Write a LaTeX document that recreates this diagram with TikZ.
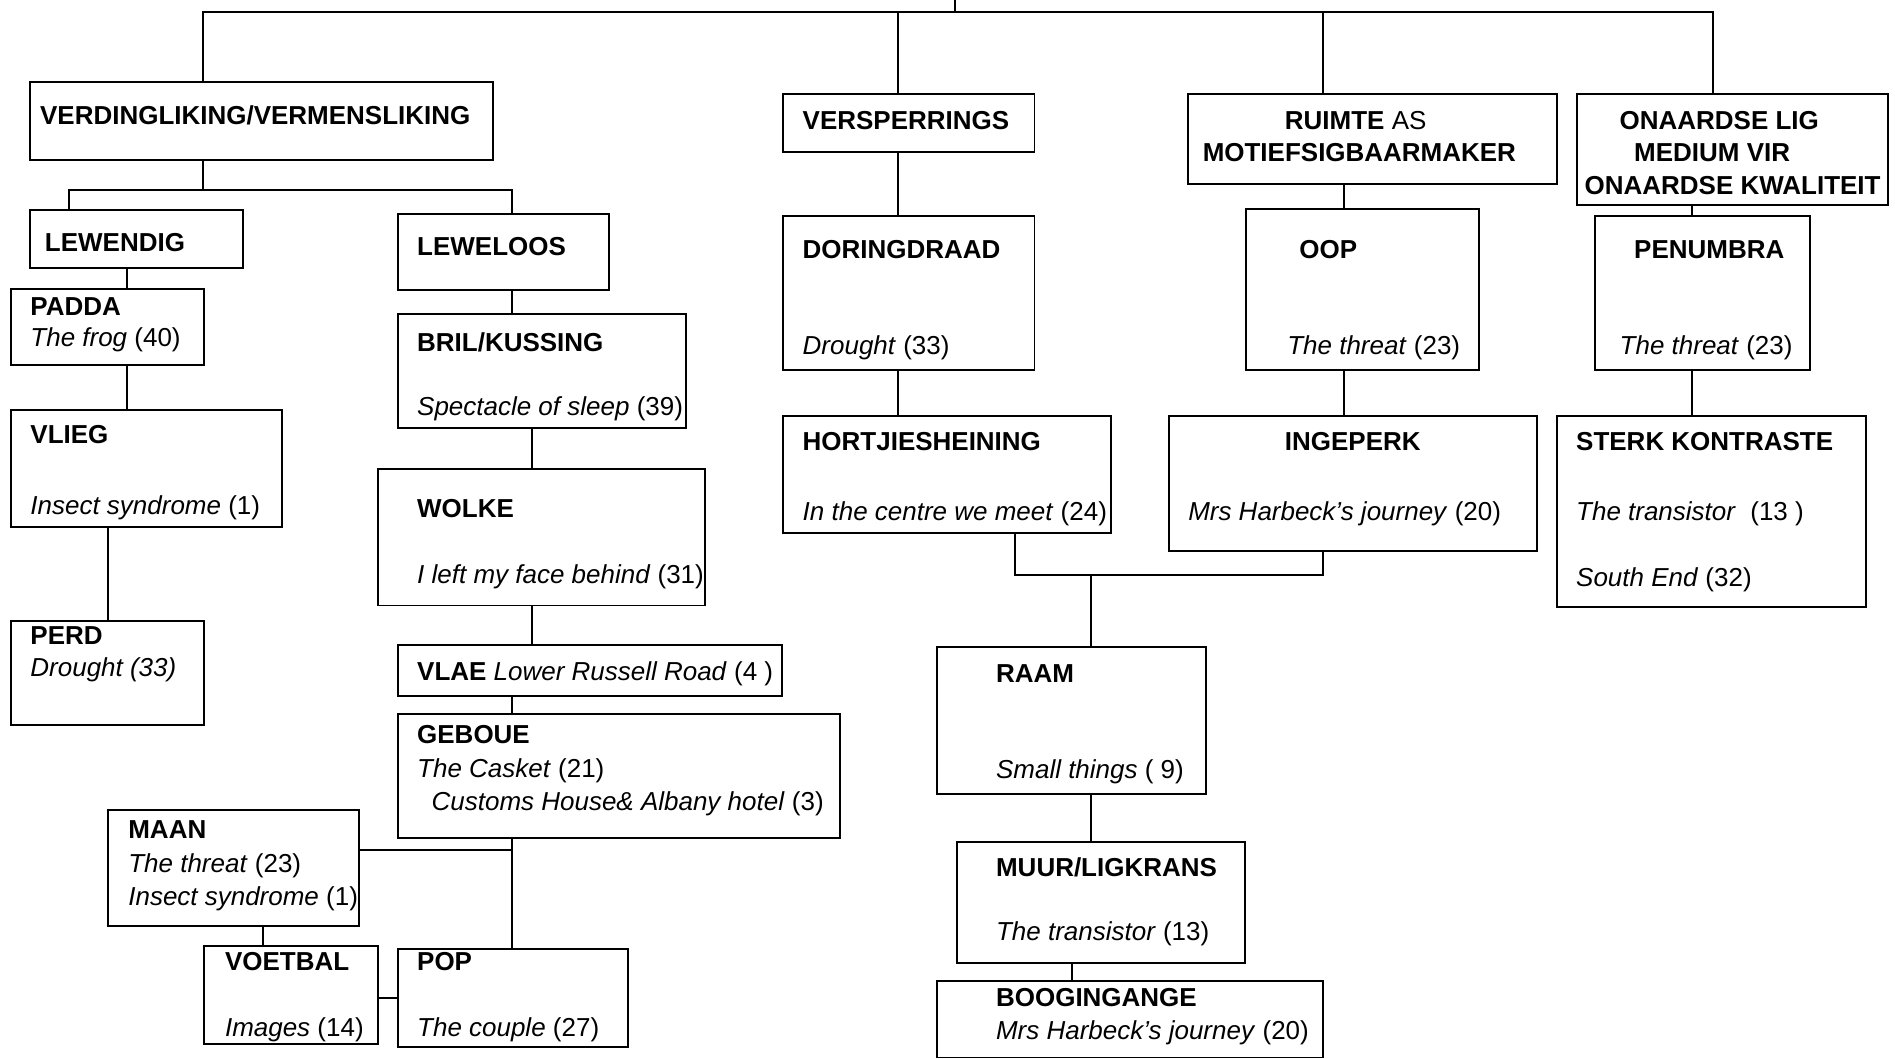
\documentclass[tikz,border=0pt]{standalone}
\usepackage{fontspec}
\setmainfont{Liberation Sans}
\usetikzlibrary{fit}
\begin{document}
\begin{tikzpicture}[x=1pt,y=-1pt,
  box/.style={draw, line width=1.6pt, inner sep=0pt},
  lbl/.style={anchor=base west, inner sep=0pt, font=\fontsize{21.5}{25}\selectfont},
  ln/.style={line width=1.6pt}]
\useasboundingbox[fill=white] (0,0) rectangle (1568,876);
% boxes
\node[box, fit={(25,68) (408,132)}] (verd) {};
\node[box, fit={(25,174) (201,222)}] (lewend) {};
\node[box, fit={(329,177) (504,240)}] (lewel) {};
\node[box, fit={(9,239) (169,302)}] (padda) {};
\node[box, fit={(9,339) (233,436)}] (vlieg) {};
\node[box, fit={(9,514) (169,600)}] (perd) {};
\node[box, fit={(329,260) (568,354)}] (bril) {};
\node[box, fit={(313,388) (583,501)}] (wolke) {};
\node[box, fit={(329,534) (647,576)}] (vlae) {};
\node[box, fit={(329,591) (695,693)}] (geboue) {};
\node[box, fit={(89,670) (297,766)}] (maan) {};
\node[box, fit={(169,783) (313,864)}] (voet) {};
\node[box, fit={(329,785) (520,866)}] (pop) {};
\node[box, fit={(648,78) (856,126)}] (versp) {};
\node[box, fit={(648,179) (856,306)}] (dor) {};
\node[box, fit={(648,344) (919,441)}] (hort) {};
\node[box, fit={(983,78) (1288,152)}] (ruimte) {};
\node[box, fit={(1031,173) (1224,306)}] (oop) {};
\node[box, fit={(967,344) (1272,456)}] (inge) {};
\node[box, fit={(1305,78) (1562,170)}] (onaard) {};
\node[box, fit={(1320,179) (1498,306)}] (pen) {};
\node[box, fit={(1288,344) (1544,502)}] (sterk) {};
\node[box, fit={(775,535) (998,657)}] (raam) {};
\node[box, fit={(792,697) (1030,797)}] (muur) {};
\node[box, fit={(775,812) (1095,875)}] (boog) {};
% texts
\node[lbl] (t1) at (33,103) {\textbf{VERDINGLIKING/VERMENSLIKING}};
\node[lbl] (t2) at (37,208) {\textbf{LEWENDIG}};
\node[lbl] (t3) at (345,211) {\textbf{LEWELOOS}};
\node[lbl] (t4) at (25,261) {\textbf{PADDA}};
\node[lbl] (t5) at (25,287) {\textit{The frog} (40)};
\node[lbl] (t6) at (25,367) {\textbf{VLIEG}};
\node[lbl] (t7) at (25,426) {\textit{Insect syndrome} (1)};
\node[lbl] (t8) at (25,533) {\textbf{PERD}};
\node[lbl] (t9) at (25,560) {\textit{Drought (33)}};
\node[lbl] (t10) at (345,291) {\textbf{BRIL/KUSSING}};
\node[lbl] (t11) at (345,344) {\textit{Spectacle of sleep} (39)};
\node[lbl] (t12) at (345,428) {\textbf{WOLKE}};
\node[lbl] (t13) at (345,483) {\textit{I left my face behind} (31)};
\node[lbl] (t14) at (345,563) {\textbf{VLAE} \textit{Lower Russell Road} (4 )};
\node[lbl] (t15) at (345,615) {\textbf{GEBOUE}};
\node[lbl] (t16) at (345,643) {\textit{The Casket} (21)};
\node[lbl] (t17) at (357,671) {\textit{Customs House\& Albany hotel} (3)};
\node[lbl] (t18) at (106,694) {\textbf{MAAN}};
\node[lbl] (t19) at (106,722) {\textit{The threat} (23)};
\node[lbl] (t20) at (106,749) {\textit{Insect syndrome} (1)};
\node[lbl] (t21) at (186,803) {\textbf{VOETBAL}};
\node[lbl] (t22) at (186,858) {\textit{Images} (14)};
\node[lbl] (t23) at (345,803) {\textbf{POP}};
\node[lbl] (t24) at (345,858) {\textit{The couple} (27)};
\node[lbl] (t25) at (664,107) {\textbf{VERSPERRINGS}};
\node[lbl] (t26) at (664,214) {\textbf{DORINGDRAAD}};
\node[lbl] (t27) at (664,293) {\textit{Drought} (33)};
\node[lbl] (t28) at (664,373) {\textbf{HORTJIESHEINING}};
\node[lbl] (t29) at (664,431) {\textit{In the centre we meet} (24)};
\node[lbl] (t30) at (1063,107) {\textbf{RUIMTE} AS};
\node[lbl] (t31) at (995,134) {\textbf{MOTIEFSIGBAARMAKER}};
\node[lbl] (t32) at (1075,214) {\textbf{OOP}};
\node[lbl] (t33) at (1065,293) {\textit{The threat} (23)};
\node[lbl] (t34) at (1063,373) {\textbf{INGEPERK}};
\node[lbl] (t35) at (983,431) {\textit{Mrs Harbeck’s journey} (20)};
\node[lbl] (t36) at (1340,107) {\textbf{ONAARDSE LIG}};
\node[lbl] (t37) at (1352,134) {\textbf{MEDIUM VIR}};
\node[lbl] (t38) at (1311,161) {\textbf{ONAARDSE KWALITEIT}};
\node[lbl] (t39) at (1352,214) {\textbf{PENUMBRA}};
\node[lbl] (t40) at (1340,293) {\textit{The threat} (23)};
\node[lbl] (t41) at (1304,373) {\textbf{STERK KONTRASTE}};
\node[lbl] (t42) at (1304,431) {\textit{The transistor}\ \ (13 )};
\node[lbl] (t43) at (1304,485) {\textit{South End} (32)};
\node[lbl] (t44) at (824,565) {\textbf{RAAM}};
\node[lbl] (t45) at (824,644) {\textit{Small things} ( 9)};
\node[lbl] (t46) at (824,725) {\textbf{MUUR/LIGKRANS}};
\node[lbl] (t47) at (824,778) {\textit{The transistor} (13)};
\node[lbl] (t48) at (824,833) {\textbf{BOOGINGANGE}};
\node[lbl] (t49) at (824,860) {\textit{Mrs Harbeck’s journey} (20)};
% helper coordinates
\coordinate (root) at (790,0);
\coordinate (bar) at (790,10);
\foreach \n in {57,89,105,168,218,424,440,743,840,887,903,1095,1112,1400,1417}
  {\coordinate (X\n) at (\n,0);}
\coordinate (J1) at (168,157);
\coordinate (J2) at (424,703);
\coordinate (J3) at (320,826);
\coordinate (J4) at (903,476);
% connectors
\draw[ln] (root) -- (bar);
\draw[ln] (X168|-verd.north) -- (X168|-bar) -- (X1417|-bar) -- (X1417|-onaard.north);
\draw[ln] (X743|-bar) -- (X743|-versp.north);
\draw[ln] (X1095|-bar) -- (X1095|-ruimte.north);
\draw[ln] (X168|-verd.south) -- (J1);
\draw[ln] (X57|-lewend.north) |- (J1) -| (X424|-lewel.north);
\draw[ln] (X105|-lewend.south) -- (X105|-padda.north);
\draw[ln] (X105|-padda.south) -- (X105|-vlieg.north);
\draw[ln] (X89|-vlieg.south) -- (X89|-perd.north);
\draw[ln] (X424|-lewel.south) -- (X424|-bril.north);
\draw[ln] (X440|-bril.south) -- (X440|-wolke.north);
\draw[ln] (X440|-wolke.south) -- (X440|-vlae.north);
\draw[ln] (X424|-vlae.south) -- (X424|-geboue.north);
\draw[ln] (X424|-geboue.south) -- (X424|-pop.north);
\draw[ln] (maan.east|-J2) -- (J2);
\draw[ln] (X218|-maan.south) -- (X218|-voet.north);
\draw[ln] (voet.east|-J3) -- (pop.west|-J3);
\draw[ln] (X743|-versp.south) -- (X743|-dor.north);
\draw[ln] (X743|-dor.south) -- (X743|-hort.north);
\draw[ln] (X840|-hort.south) |- (X1095|-J4) -- (X1095|-inge.south);
\draw[ln] (J4) -- (X903|-raam.north);
\draw[ln] (X1112|-ruimte.south) -- (X1112|-oop.north);
\draw[ln] (X1112|-oop.south) -- (X1112|-inge.north);
\draw[ln] (X1400|-onaard.south) -- (X1400|-pen.north);
\draw[ln] (X1400|-pen.south) -- (X1400|-sterk.north);
\draw[ln] (X903|-raam.south) -- (X903|-muur.north);
\draw[ln] (X887|-muur.south) -- (X887|-boog.north);
\end{tikzpicture}
\end{document}
